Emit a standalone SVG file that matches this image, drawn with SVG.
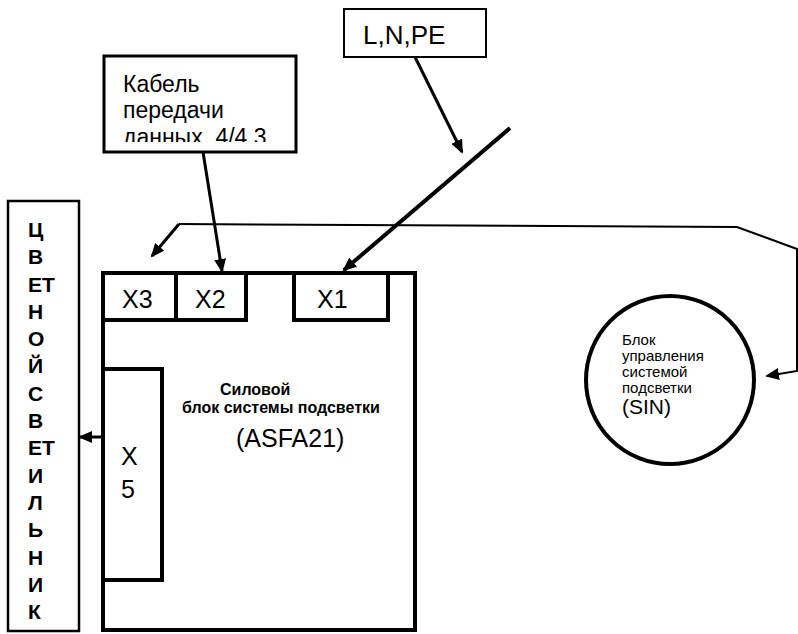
<svg xmlns="http://www.w3.org/2000/svg" width="798" height="634" viewBox="0 0 798 634">
<style>
  .t { font-family: "Liberation Sans", Arial, sans-serif; fill: #000; }
  .box { fill: #fff; stroke: #000; }
  .ln { fill: none; stroke: #000; }
</style>
<defs>
  <marker id="ah" viewBox="0 0 14 12" refX="12" refY="6" markerWidth="14" markerHeight="12" markerUnits="userSpaceOnUse" orient="auto">
    <path d="M0,0 L14,6 L0,12 z" fill="#000"/>
  </marker>
  <clipPath id="kclip"><rect x="104" y="57" width="190" height="85"/></clipPath>
</defs>

<g id="svetilnik">
  <rect class="box" x="8" y="201" width="71" height="430" stroke-width="2.5"/>
  <g class="t" font-size="21" font-weight="bold">
    <text x="28" y="237">Ц</text>
    <text x="28" y="264">В</text>
    <text x="28" y="292">ЕТ</text>
    <text x="28" y="319">Н</text>
    <text x="28" y="346">О</text>
    <text x="28" y="373">Й</text>
    <text x="28" y="401">С</text>
    <text x="28" y="428">В</text>
    <text x="28" y="455">ЕТ</text>
    <text x="28" y="483">И</text>
    <text x="28" y="510">Л</text>
    <text x="28" y="537">Ь</text>
    <text x="28" y="565">Н</text>
    <text x="28" y="592">И</text>
    <text x="28" y="619">К</text>
  </g>
</g>

<g id="asfa21">
  <rect class="box" x="103" y="273" width="312" height="357" stroke-width="4"/>
  <text class="t" x="220" y="395" font-size="16" font-weight="bold">Силовой</text>
  <text class="t" x="182" y="413" font-size="16" font-weight="bold">блок системы подсветки</text>
  <text class="t" x="236" y="447" font-size="25">(ASFA21)</text>
</g>

<g id="x3">
  <rect class="box" x="103" y="273" width="73" height="47" stroke-width="4"/>
  <text class="t" x="122" y="308" font-size="25">X3</text>
</g>
<g id="x2">
  <rect class="box" x="176" y="273" width="70" height="47" stroke-width="4"/>
  <text class="t" x="195" y="308" font-size="25">X2</text>
</g>
<g id="x1">
  <rect class="box" x="294" y="273" width="94" height="47" stroke-width="4"/>
  <text class="t" x="317" y="308" font-size="25">X1</text>
</g>
<g id="x5">
  <rect class="box" x="103" y="369" width="59" height="211" stroke-width="4"/>
  <text class="t" x="121" y="465" font-size="25">X</text>
  <text class="t" x="121" y="498" font-size="25">5</text>
</g>

<g id="kabel">
  <rect class="box" x="104" y="56" width="192" height="96" stroke-width="3"/>
  <g class="t" font-size="23" clip-path="url(#kclip)">
    <text x="123" y="92">Кабель</text>
    <text x="123" y="118">передачи</text>
    <text x="123" y="145" xml:space="preserve">данных  4/4.3</text>
  </g>
</g>

<g id="lnpe">
  <rect class="box" x="344" y="9" width="142" height="48" stroke-width="2"/>
  <text class="t" x="363" y="44" font-size="26">L,N,PE</text>
</g>

<g id="sin">
  <circle class="box" cx="670" cy="380" r="84" stroke-width="4"/>
  <g class="t" font-size="15">
    <text x="622" y="345">Блок</text>
    <text x="622" y="361">управления</text>
    <text x="622" y="377">системой</text>
    <text x="622" y="393">подсветки</text>
  </g>
  <text class="t" x="622" y="414" font-size="21">(SIN)</text>
</g>

<g id="connectors">
  <line class="ln" x1="510" y1="128" x2="344" y2="270" stroke-width="4" marker-end="url(#ah)"/>
  <line class="ln" x1="415" y1="57" x2="462" y2="152" stroke-width="3" marker-end="url(#ah)"/>
  <line class="ln" x1="203" y1="152" x2="222" y2="271" stroke-width="3" marker-end="url(#ah)"/>
  <line class="ln" x1="179" y1="224" x2="152" y2="256" stroke-width="3" marker-end="url(#ah)"/>
  <polyline class="ln" points="179,224 737,227 797,249 797,371 767,376" stroke-width="2" marker-end="url(#ah)"/>
  <line class="ln" x1="103" y1="437" x2="80" y2="437" stroke-width="3" marker-end="url(#ah)"/>
</g>
</svg>
